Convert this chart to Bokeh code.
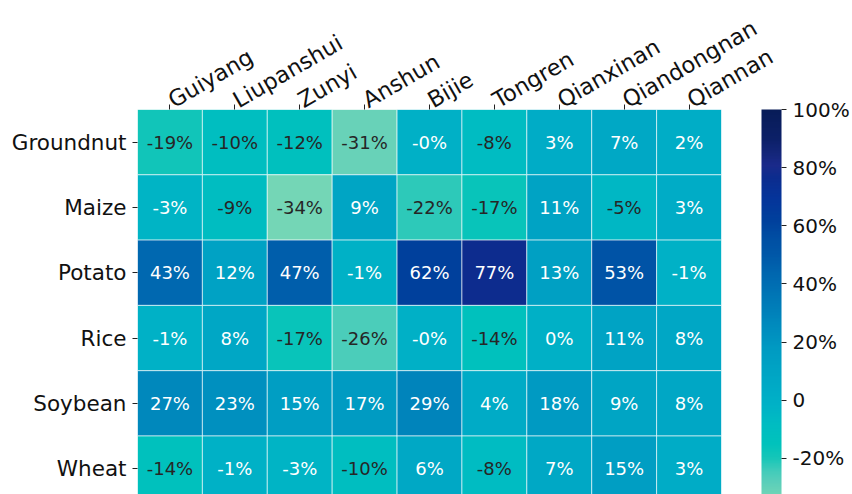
import numpy as np
from bokeh.plotting import figure
from bokeh.models import (ColumnDataSource, LinearColorMapper, ColorBar, FixedTicker, Range1d)
from bokeh.embed import file_html
from bokeh.resources import INLINE
from bokeh.core.properties import value

# ---------------- data ----------------
cities = ["Guiyang", "Liupanshui", "Zunyi", "Anshun", "Bijie",
          "Tongren", "Qianxinan", "Qiandongnan", "Qiannan"]
crops = ["Groundnut", "Maize", "Potato", "Rice", "Soybean", "Wheat"]

groundnut = [-19, -10, -12, -31, -0.3, -8, 3, 7, 2]
maize     = [-3, -9, -34, 9, -22, -17, 11, -5, 3]
potato    = [43, 12, 47, -1, 62, 77, 13, 53, -1]
rice      = [-1, 8, -17, -26, -0.3, -14, 0, 11, 8]
soybean   = [27, 23, 15, 17, 29, 4, 18, 9, 8]
wheat     = [-14, -1, -3, -10, 6, -8, 7, 15, 3]

cbar_ticks = [-20, 0, 20, 40, 60, 80, 100]
cbar_labels = ["-20%", "0", "20%", "40%", "60%", "80%", "100%"]

rows = [groundnut, maize, potato, rice, soybean, wheat]

# ---------------- colour map ----------------
anchors = [
    (-34, "#74d6b6"), (-28, "#58ceba"), (-24, "#3ecbba"), (-20, "#14c6b8"),
    (-15, "#00c2bc"), (-8, "#00bcc2"), (-2, "#00b2c6"), (3, "#00acc6"),
    (10, "#00a4c4"), (18, "#009ac2"), (25, "#008cbe"), (30, "#0082ba"),
    (43, "#0068b0"), (50, "#0058a8"), (55, "#0050a4"), (62, "#00409c"),
    (70, "#05349a"), (77, "#0c2c8e"), (81, "#1a2a8a"), (85, "#14267a"),
    (90, "#0c2068"), (100, "#081c58"),
]
lo, hi = -34.5, 100.0
av = np.array([a[0] for a in anchors], dtype=float)
ac = np.array([[int(c[i:i + 2], 16) for i in (1, 3, 5)] for _, c in anchors], dtype=float)
vals = np.linspace(lo, hi, 256)
palette = []
for v in vals:
    rgb = [np.interp(v, av, ac[:, k]) for k in range(3)]
    palette.append("#%02x%02x%02x" % tuple(int(round(c)) for c in rgb))

mapper = LinearColorMapper(palette=palette, low=lo, high=hi)

# ---------------- source ----------------
n = len(crops)
xs, ys, vs, labels, tcolors = [], [], [], [], []
for i, (crop, row) in enumerate(zip(crops, rows)):
    for city, v in zip(cities, row):
        xs.append(city)
        ys.append(n - 1 - i)
        vs.append(v)
        labels.append(f"{v:.0f}%")
        tcolors.append("#262626" if v <= -4 else "white")

src = ColumnDataSource(dict(x=xs, y=ys, v=vs, label=labels, tc=tcolors))

# ---------------- figure ----------------
p = figure(width=852, height=494, x_range=cities,
           y_range=Range1d(-0.396, n - 0.5),
           x_axis_location="above", output_backend="svg",
           toolbar_location=None, tools="",
           min_border_left=137, min_border_right=130,
           min_border_top=109, min_border_bottom=0)

p.rect(x="x", y="y", width=1, height=1, source=src,
       fill_color={"field": "v", "transform": mapper},
       line_color="white", line_alpha=0.6, line_width=1)

p.text(x="x", y="y", text="label", source=src,
       text_align="center", text_baseline="middle",
       text_font=value("DejaVu Sans"), text_font_size="18px",
       text_color="tc")

p.grid.visible = False
p.outline_line_color = None
p.background_fill_color = "white"
p.border_fill_color = "white"

for ax in (p.xaxis[0], p.yaxis[0]):
    ax.axis_line_color = None
    ax.major_tick_line_color = "#222222"
    ax.major_tick_out = 5
    ax.major_tick_in = 0
    ax.minor_tick_line_color = None
    ax.major_label_text_font = "DejaVu Sans"
    ax.major_label_text_font_size = "21.5px"
    ax.major_label_text_color = "#111111"
    ax.major_label_standoff = 6

p.xaxis.major_label_orientation = np.pi / 6
p.xaxis.major_label_text_font_size = "22.5px"
p.xaxis.major_label_standoff = 3

p.yaxis.ticker = FixedTicker(ticks=list(range(n)))
p.yaxis.major_label_overrides = {n - 1 - i: c for i, c in enumerate(crops)}

cb = ColorBar(color_mapper=mapper,
              ticker=FixedTicker(ticks=cbar_ticks),
              major_label_overrides={t: l for t, l in zip(cbar_ticks, cbar_labels)},
              width=20, height=385, padding=0, margin=0,
              location=(40, 0),
              display_low=-32.3,
              bar_line_color=None, border_line_color=None,
              background_fill_color=None,
              major_tick_out=5, major_tick_in=0,
              major_tick_line_color="#222222",
              minor_tick_line_color=None,
              major_label_text_font="DejaVu Sans",
              major_label_text_font_size="20px",
              major_label_text_color="#111111",
              label_standoff=6)
p.add_layout(cb, "right")

open("out.html", "w").write(file_html(p, INLINE))
